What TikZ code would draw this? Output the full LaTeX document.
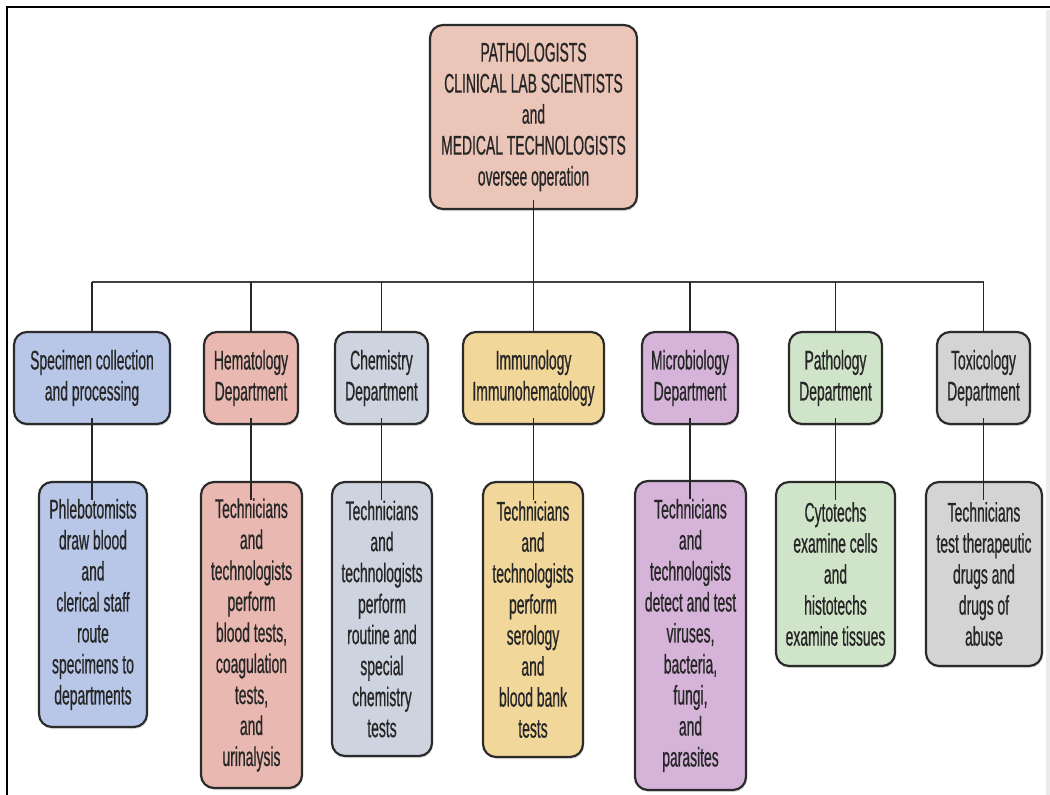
\documentclass[tikz,border=0pt]{standalone}
\usepackage{fontspec}
\newfontfamily\nf[FakeStretch=0.515,FakeBold=0.6]{Liberation Sans}
\usetikzlibrary{calc,shadows}
\definecolor{txt}{HTML}{262626}
\definecolor{edge}{HTML}{2B2B2B}
\definecolor{ctop}{HTML}{EBC5B8}
\definecolor{cspec}{HTML}{B8C7E8}
\definecolor{chem}{HTML}{E9B9B1}
\definecolor{cchem}{HTML}{CED4DF}
\definecolor{cimm}{HTML}{F2D79A}
\definecolor{cmic}{HTML}{D6B4DA}
\definecolor{cpath}{HTML}{D0E4C9}
\definecolor{ctox}{HTML}{D4D4D4}
\tikzset{
  box/.style={draw=edge, line width=2.2pt, rounded corners=13pt, align=center,
    text=txt, font=\nf\fontsize{27}{31}\selectfont, inner sep=0pt,
    drop shadow={opacity=0.25, shadow xshift=1pt, shadow yshift=-2pt}},
  conn/.style={draw=black!85, line width=1.3pt},
  busline/.style={draw=black!75, line width=2.4pt},
}
\begin{document}
\begin{tikzpicture}[x=1pt,y=-1pt]
\useasboundingbox (0,0) rectangle (1050,795);
% frame
\fill[black!8] (1046,10) rectangle (1050,795);
\draw[line width=1.6pt] (7,795) -- (7,7) -- (1050,7);

% top
\node[box, fill=ctop, minimum width=207pt, minimum height=184pt] (top) at (533.5,117)
  {PATHOLOGISTS\\CLINICAL LAB SCIENTISTS\\and\\MEDICAL TECHNOLOGISTS\\oversee operation};

% departments
\node[box, fill=cspec, minimum width=156pt, minimum height=92pt] (spec) at (92,378) {Specimen collection\\and processing};
\node[box, fill=chem, minimum width=94pt, minimum height=92pt] (hem) at (251,378) {Hematology\\Department};
\node[box, fill=cchem, minimum width=93pt, minimum height=92pt] (chm) at (381.5,378) {Chemistry\\Department};
\node[box, fill=cimm, minimum width=141pt, minimum height=92pt] (imm) at (533.5,378) {Immunology\\Immunohematology};
\node[box, fill=cmic, minimum width=96pt, minimum height=92pt] (mic) at (690,378) {Microbiology\\Department};
\node[box, fill=cpath, minimum width=93pt, minimum height=92pt] (pth) at (835.5,378) {Pathology\\Department};
\node[box, fill=ctox, minimum width=93pt, minimum height=92pt] (tox) at (983.5,378) {Toxicology\\Department};

% details
\node[box, fill=cspec, minimum width=108pt, minimum height=245pt] (phl) at (93,604.5)
  {Phlebotomists\\draw blood\\and\\clerical staff\\route\\specimens to\\departments};
\node[box, fill=chem, minimum width=101pt, minimum height=306pt] (hemt) at (251.5,635)
  {Technicians\\and\\technologists\\perform\\blood tests,\\coagulation\\tests,\\and\\urinalysis};
\node[box, fill=cchem, minimum width=100pt, minimum height=274pt] (chmt) at (382,619)
  {Technicians\\and\\technologists\\perform\\routine and\\special\\chemistry\\tests};
\node[box, fill=cimm, minimum width=100pt, minimum height=275pt] (immt) at (533,619.5)
  {Technicians\\and\\technologists\\perform\\serology\\and\\blood bank\\tests};
\node[box, fill=cmic, minimum width=111pt, minimum height=309pt] (mict) at (690.5,635.5)
  {Technicians\\and\\technologists\\detect and test\\viruses,\\bacteria,\\fungi,\\and\\parasites};
\node[box, fill=cpath, minimum width=119pt, minimum height=184pt] (ptht) at (835.5,574)
  {Cytotechs\\examine cells\\and\\histotechs\\examine tissues};
\node[box, fill=ctox, minimum width=116pt, minimum height=184pt] (toxt) at (984,574)
  {Technicians\\test therapeutic\\drugs and\\drugs of\\abuse};

% bus
\coordinate (bus) at (533.5,282);
\draw[busline] (spec.north |- bus) -- (tox.north |- bus);
\draw[conn] ([yshift=10pt]top.south) -- (top.south |- bus);
\foreach \d in {spec,hem,chm,imm,mic,pth,tox}
  \draw[conn] (\d.north |- bus) -- (\d.north);
\foreach \d/\e in {spec/phl,hem/hemt,chm/chmt,imm/immt,mic/mict,pth/ptht,tox/toxt}
  \draw[conn] ([yshift=7pt]\d.south) -- ([yshift=-19pt]\d.south |- \e.north);
\end{tikzpicture}
\end{document}
